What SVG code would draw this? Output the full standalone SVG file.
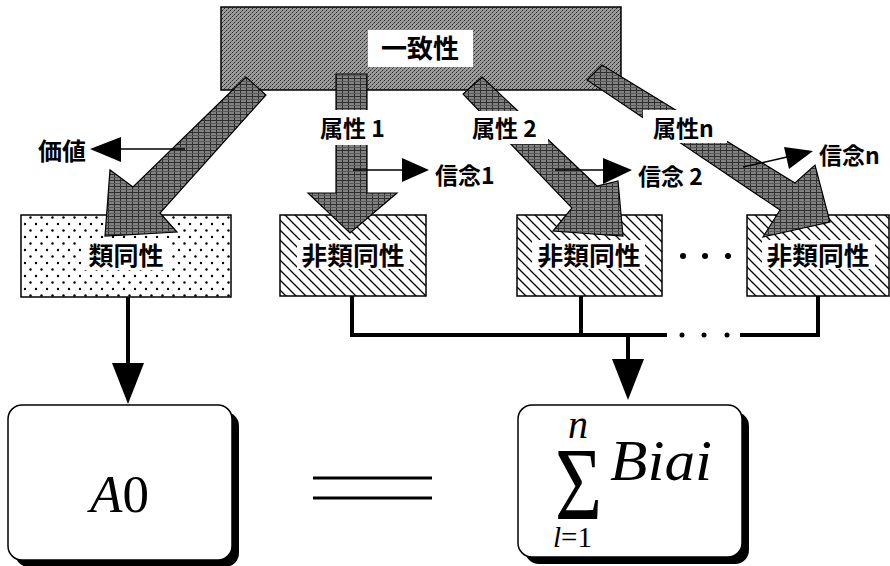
<svg xmlns="http://www.w3.org/2000/svg" width="890" height="566" viewBox="0 0 890 566">
<style>
.jp{font-family:"Noto Sans CJK JP","Noto Sans",sans-serif;font-weight:bold;fill:#000}
.box{stroke:#000;stroke-width:1.5}
.big{fill:url(#arrTex);stroke:#000;stroke-width:1.2;stroke-linejoin:miter}
.thin{stroke:#000;stroke-width:1.5;fill:none}
.bus{stroke:#000;stroke-width:4;fill:none}
.head{fill:#000}
.math{font-family:"Liberation Serif","Times New Roman",serif;fill:#000}
</style>
<defs>
<pattern id="boxTex" width="4" height="4" patternUnits="userSpaceOnUse">
<rect width="4" height="4" fill="#9c9c9c"/>
<rect x="0" y="0" width="1" height="1" fill="#2a2a2a"/>
<rect x="2" y="2" width="1" height="1" fill="#2a2a2a"/>
<rect x="1" y="3" width="1" height="1" fill="#555"/>
<rect x="3" y="1" width="1" height="1" fill="#666"/>
</pattern>
<pattern id="arrTex" width="6" height="6" patternUnits="userSpaceOnUse">
<rect width="6" height="6" fill="#828282"/>
<rect x="0" y="0" width="6" height="1" fill="#2e2e2e"/>
<rect x="0" y="0" width="1" height="6" fill="#2e2e2e"/>
<rect x="3" y="3" width="1" height="1" fill="#3a3a3a"/>
<rect x="0" y="3" width="6" height="1" fill="#5a5a5a"/>
</pattern>
<pattern id="dots" width="11" height="13" patternUnits="userSpaceOnUse">
<rect width="11" height="13" fill="#fff"/>
<circle cx="3" cy="3" r="1.2" fill="#000"/>
<circle cx="8.5" cy="9.5" r="1.2" fill="#000"/>
</pattern>
<pattern id="hatch" width="10" height="10" patternUnits="userSpaceOnUse">
<rect width="10" height="10" fill="#fff"/>
<path d="M0,0 L10,10 M-5,5 L5,15 M5,-5 L15,5" stroke="#000" stroke-width="1.3"/>
</pattern>
</defs>

<!-- lower level boxes -->
<g id="node-ruidousei">
<rect class="box" x="21" y="215" width="210" height="82" fill="url(#dots)"/>
<rect x="83" y="238" width="86" height="32" fill="#fff"/>
<text class="jp" x="126" y="265" font-size="25" text-anchor="middle">類同性</text>
</g>
<g id="node-hiruidousei-1">
<rect class="box" x="280" y="215" width="146" height="81" fill="url(#hatch)"/>
<rect x="297" y="240" width="113" height="29" fill="#fff"/>
<text class="jp" x="353" y="265" font-size="25" text-anchor="middle" textLength="103" lengthAdjust="spacingAndGlyphs">非類同性</text>
</g>
<g id="node-hiruidousei-2">
<rect class="box" x="517" y="215" width="145" height="81" fill="url(#hatch)"/>
<rect x="532" y="240" width="113" height="29" fill="#fff"/>
<text class="jp" x="589" y="265" font-size="25" text-anchor="middle" textLength="103" lengthAdjust="spacingAndGlyphs">非類同性</text>
</g>
<g id="node-hiruidousei-n">
<rect class="box" x="747" y="215" width="142" height="81" fill="url(#hatch)"/>
<rect x="762" y="240" width="113" height="29" fill="#fff"/>
<text class="jp" x="818" y="265" font-size="25" text-anchor="middle" textLength="103" lengthAdjust="spacingAndGlyphs">非類同性</text>
</g>
<g id="ellipsis-boxes">
<circle cx="683" cy="256" r="3" fill="#000"/>
<circle cx="705" cy="256" r="3" fill="#000"/>
<circle cx="728" cy="256" r="3" fill="#000"/>
</g>

<!-- top box -->
<g id="node-icchisei">
<rect class="box" x="221" y="7" width="400" height="83" fill="url(#boxTex)"/>
<rect x="368" y="30" width="105" height="37" fill="#fff"/>
<text class="jp" x="420" y="58" font-size="26" text-anchor="middle">一致性</text>
</g>

<g id="connectors">
<!-- big block arrows -->
<polygon class="big" points="246,77 133,187 110,170 105,236 177,232 160,213 266,95"/>
<polygon class="big" points="336,74 367,74 367,193 397,193 350,233 308,193 336,193"/>
<polygon class="big" points="482,77 597,186 618,181 623,236 553,231 572,208 463,94"/>
<polygon class="big" points="602,65 795,183 815,165 830,222 763,237 780,210 587,80"/>
<!-- attribute labels -->
<rect x="316" y="110" width="76" height="35" fill="#fff"/>
<text class="jp" x="320" y="137" font-size="23">属性 1</text>
<rect x="466" y="111" width="82" height="33" fill="#fff"/>
<text class="jp" x="472" y="137" font-size="23">属性 2</text>
<rect x="643" y="110" width="84" height="33" fill="#fff"/>
<text class="jp" x="653" y="137" font-size="23">属性n</text>
<!-- small arrows -->
<line class="thin" x1="185" y1="149" x2="118" y2="149"/>
<polygon class="head" points="90,149 121,137 121,162"/>
<text class="jp" x="38" y="160" font-size="24">価値</text>
<line class="thin" x1="353" y1="170" x2="404" y2="170"/>
<polygon class="head" points="429,170 402,158 402,182"/>
<text class="jp" x="435" y="184" font-size="23">信念1</text>
<line class="thin" x1="555" y1="170" x2="605" y2="170"/>
<polygon class="head" points="632,170 603,158 603,184"/>
<text class="jp" x="638" y="185" font-size="23">信念 2</text>
<line class="thin" x1="743" y1="167" x2="787" y2="157"/>
<polygon class="head" points="813,151 784,147 789,169"/>
<text class="jp" x="819" y="164" font-size="23">信念n</text>
<!-- lower connectors -->
<line class="bus" x1="128" y1="297" x2="128" y2="366"/>
<polygon class="head" points="112,363 144,363 128,404"/>
<line class="bus" x1="352" y1="296" x2="352" y2="335"/>
<line class="bus" x1="581" y1="296" x2="581" y2="335"/>
<line class="bus" x1="818" y1="296" x2="818" y2="335"/>
<path class="bus" d="M350,335 H667"/>
<path class="bus" d="M740,335 H820"/>
<circle cx="682" cy="335" r="2.5" fill="#000"/>
<circle cx="704" cy="335" r="2.5" fill="#000"/>
<circle cx="727" cy="335" r="2.5" fill="#000"/>
<line class="bus" x1="628" y1="335" x2="628" y2="362"/>
<polygon class="head" points="612,359 644,359 628,400"/>
</g>

<!-- bottom boxes -->
<g id="node-a0">
<rect x="15" y="412" width="224" height="155" rx="14" fill="#000"/>
<rect class="box" x="8" y="405" width="224" height="155" rx="14" fill="#fff"/>
<text class="math" x="90" y="512" font-size="53"><tspan font-style="italic">A</tspan>0</text>
</g>
<g id="equals">
<line x1="313" y1="478" x2="432" y2="478" stroke="#000" stroke-width="3"/>
<line x1="313" y1="498" x2="432" y2="498" stroke="#000" stroke-width="3"/>
</g>
<g id="node-sum">
<rect x="525" y="412" width="224" height="152" rx="14" fill="#000"/>
<rect class="box" x="518" y="405" width="224" height="152" rx="14" fill="#fff"/>
<text class="math" x="578" y="438" font-size="40" font-style="italic" text-anchor="middle">n</text>
<text class="math" x="555" y="519" font-size="104" textLength="47" lengthAdjust="spacingAndGlyphs">Σ</text>
<text class="math" x="610" y="480" font-size="57" font-style="italic" textLength="102" lengthAdjust="spacingAndGlyphs">Biai</text>
<text class="math" x="553" y="547" font-size="29"><tspan font-style="italic">l</tspan>=1</text>
</g>
</svg>
